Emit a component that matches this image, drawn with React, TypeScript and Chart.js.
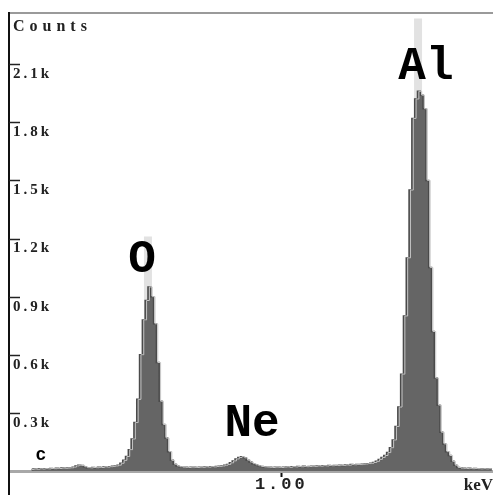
import { useEffect, useRef } from 'react';
import { Chart, registerables } from 'chart.js';

Chart.register(...registerables);

// Channel energies (keV)
const energies = [
  0.11, 0.12, 0.13, 0.14, 0.15, 0.16, 0.17, 0.18, 0.19, 0.2, 0.21, 0.22, 0.23,
  0.24, 0.25, 0.26, 0.27, 0.28, 0.29, 0.3, 0.31,
  0.32, 0.33, 0.34, 0.35, 0.36, 0.37, 0.38, 0.39, 0.4, 0.41, 0.42,
  0.43, 0.44, 0.45, 0.46, 0.47, 0.48, 0.49, 0.5, 0.51, 0.52,
  0.53, 0.54, 0.55, 0.56, 0.57, 0.58, 0.59, 0.6, 0.61, 0.62,
  0.63, 0.64, 0.65, 0.66, 0.67, 0.68, 0.69, 0.7, 0.71, 0.72, 0.73, 0.74, 0.75, 0.76, 0.77, 0.78, 0.79, 0.8,
  0.81, 0.82, 0.83, 0.84, 0.85, 0.86, 0.87, 0.88, 0.89, 0.9, 0.91, 0.92, 0.93,
  0.94, 0.95, 0.96, 0.97, 0.98, 0.99, 1.0, 1.01, 1.02, 1.03,
  1.04, 1.05, 1.06, 1.07, 1.08, 1.09, 1.1, 1.11, 1.12, 1.13,
  1.14, 1.15, 1.16, 1.17, 1.18, 1.19, 1.2, 1.21, 1.22, 1.23,
  1.24, 1.25, 1.26, 1.27, 1.28, 1.29, 1.3, 1.31, 1.32, 1.33,
  1.34, 1.35, 1.36, 1.37, 1.38, 1.39, 1.4, 1.41, 1.42, 1.43,
  1.44, 1.45, 1.46, 1.47, 1.48, 1.49, 1.5, 1.51, 1.52, 1.53,
  1.54, 1.55, 1.56, 1.57, 1.58, 1.59, 1.6, 1.61, 1.62, 1.63,
  1.64, 1.65, 1.66, 1.67, 1.68, 1.69, 1.7, 1.71, 1.72, 1.73, 1.74, 1.75,
];

// Counts per channel
const counts = [
  8, 10, 9, 11, 10, 12, 11, 13, 12, 14, 13, 15, 14,
  15, 16, 20, 26, 30, 28, 22, 17,
  16, 18, 17, 19, 18, 21, 20, 22, 24, 26, 30,
  40, 55, 75, 110, 165, 250, 370, 600, 780, 880,
  950, 900, 760, 560, 360, 240, 170, 100, 55, 35,
  26, 22, 20, 19, 18, 20, 19, 18, 20, 19, 21, 20, 22, 21, 23, 24, 26, 30,
  34, 42, 52, 62, 70, 74, 68, 56, 46, 38, 32, 27, 23,
  21, 20, 19, 18, 20, 19, 18, 20, 21, 19,
  22, 21, 23, 22, 24, 22, 23, 25, 24, 26,
  25, 27, 26, 28, 27, 29, 28, 30, 29, 31,
  30, 33, 32, 34, 33, 35, 36, 38, 40, 44,
  50, 60, 70, 80, 95, 120, 160, 230, 330, 500,
  800, 1100, 1450, 1820, 1920, 1960, 1940, 1870, 1500, 1050,
  720, 480, 340, 200, 140, 100, 80, 50, 30, 18,
  15, 14, 13, 14, 12, 13, 12, 11, 12, 11, 12, 11,
];

const yTickValues = [300, 600, 900, 1200, 1500, 1800, 2100];
const xTickValues = [1.0];
const yTitle = 'Counts';
const xTitle = 'keV';

// Element line markers (energy, top of marker in counts)
const markerEnergy = [0.525, 1.487];
const markerTop = [1210, 2336];

// Peak labels placed in data coordinates
const peakNames = ['c', 'O', 'Ne', 'Al'];
const peakLabelEnergy = [0.144, 0.504, 0.896, 1.515];
const peakLabelCounts = [80, 1085, 238, 2085];

const decorPlugin = {
  id: 'decor',
  beforeDraw(chart: any) {
    chart.ctx.letterSpacing = '3px';
  },
  afterDraw(chart: any) {
    const { ctx, chartArea, scales } = chart;
    const xs = scales.x;
    const ys = scales.y;
    ctx.save();
    ctx.letterSpacing = '0px';
    // y tick marks (inside the plot)
    ctx.strokeStyle = '#222';
    ctx.lineWidth = 1.5;
    ys.ticks.forEach((t: any) => {
      const py = Math.round(ys.getPixelForValue(t.value)) + 0.5;
      ctx.beginPath();
      ctx.moveTo(chartArea.left, py);
      ctx.lineTo(chartArea.left + 11, py);
      ctx.stroke();
    });
    // y axis line extension below the plot
    ctx.strokeStyle = '#111';
    ctx.lineWidth = 2;
    ctx.beginPath();
    ctx.moveTo(chartArea.left, chartArea.bottom);
    ctx.lineTo(chartArea.left, chart.height);
    ctx.stroke();
    // axis titles
    ctx.fillStyle = '#222';
    ctx.letterSpacing = '5px';
    ctx.font = 'bold 16px "Liberation Serif"';
    ctx.textAlign = 'left';
    ctx.textBaseline = 'alphabetic';
    ctx.fillText(yTitle, chartArea.left + 4, 31);
    ctx.letterSpacing = '0px';
    ctx.font = 'bold 17px "Liberation Serif"';
    ctx.textAlign = 'right';
    ctx.fillText(xTitle, chart.width, 490);
    // peak labels
    ctx.fillStyle = '#000';
    ctx.textAlign = 'center';
    ctx.textBaseline = 'middle';
    peakNames.forEach((n, i) => {
      ctx.font = `bold ${n === 'c' ? 18 : 46}px "Liberation Mono"`;
      ctx.fillText(n, xs.getPixelForValue(peakLabelEnergy[i]), ys.getPixelForValue(peakLabelCounts[i]));
    });
    ctx.restore();
  },
};

export default function App() {
  const ref = useRef<HTMLCanvasElement | null>(null);

  useEffect(() => {
    if (!ref.current) return;
    const spectrum = energies.map((e, i) => ({ x: e, y: counts[i] }));
    const markerSets = markerEnergy.map((e, i) => ({
      label: 'marker' + i,
      data: [
        { x: e, y: 0 },
        { x: e, y: markerTop[i] },
      ],
      borderColor: '#e2e2e2',
      borderWidth: 8,
      pointRadius: 0,
      fill: false,
      order: 3,
    }));
    const chart = new Chart(ref.current, {
      type: 'line',
      data: {
        datasets: [
          {
            label: 'spectrum',
            data: spectrum,
            stepped: 'middle',
            fill: 'origin',
            backgroundColor: '#656565',
            borderColor: '#4a4a4a',
            borderWidth: 1.5,
            pointRadius: 0,
            order: 1,
          },
          {
            label: 'outline',
            data: spectrum,
            stepped: 'before',
            fill: false,
            borderColor: '#c4c4c4',
            borderWidth: 1,
            pointRadius: 0,
            order: 0,
          },
          ...markerSets,
        ] as any,
      },
      options: {
        responsive: false,
        animation: false,
        events: [],
        layout: { padding: { left: 9, top: 10, right: 0, bottom: 0 } },
        plugins: {
          legend: { display: false },
          tooltip: { enabled: false },
        },
        scales: {
          x: {
            type: 'linear',
            min: 0.03,
            max: 1.754,
            afterBuildTicks: (s: any) => {
              s.ticks = xTickValues.map((v) => ({ value: v }));
            },
            afterFit: (s: any) => {
              s.height = 24;
            },
            grid: {
              display: true,
              drawOnChartArea: false,
              drawTicks: true,
              tickLength: 6,
              tickColor: '#111',
              tickWidth: 2,
            },
            border: { display: true, color: '#a8a8a8', width: 3 },
            ticks: {
              autoSkip: false,
              maxRotation: 0,
              padding: -2,
              color: '#222',
              font: { family: 'Liberation Mono', size: 17, weight: 'bold' },
              callback: (v: any) => Number(v).toFixed(2),
            },
          },
          x2: {
            type: 'linear',
            position: 'top',
            min: 0,
            max: 1,
            afterFit: (s: any) => {
              s.height = 0;
            },
            grid: { display: false, drawTicks: false },
            ticks: { display: false },
            border: { display: true, color: '#9a9a9a', width: 2 },
          },
          y: {
            type: 'linear',
            min: 0,
            max: 2364,
            afterBuildTicks: (s: any) => {
              s.ticks = yTickValues.map((v) => ({ value: v }));
            },
            afterFit: (s: any) => {
              s.width = 0;
            },
            grid: { display: false, drawTicks: false },
            border: { display: true, color: '#111', width: 2 },
            ticks: {
              mirror: true,
              padding: 4,
              labelOffset: 10,
              color: '#222',
              font: { family: 'Liberation Serif', size: 15, weight: 'bold' },
              callback: (v: any) => (Number(v) / 1000).toFixed(1) + 'k',
            },
          },
        } as any,
      },
      plugins: [decorPlugin],
    });
    return () => chart.destroy();
  }, []);

  return (
    <div style={{ position: 'absolute', left: 0, top: 0, width: 493, height: 495, background: '#fff' }}>
      <canvas ref={ref} width={493} height={495} style={{ display: 'block' }} />
    </div>
  );
}
